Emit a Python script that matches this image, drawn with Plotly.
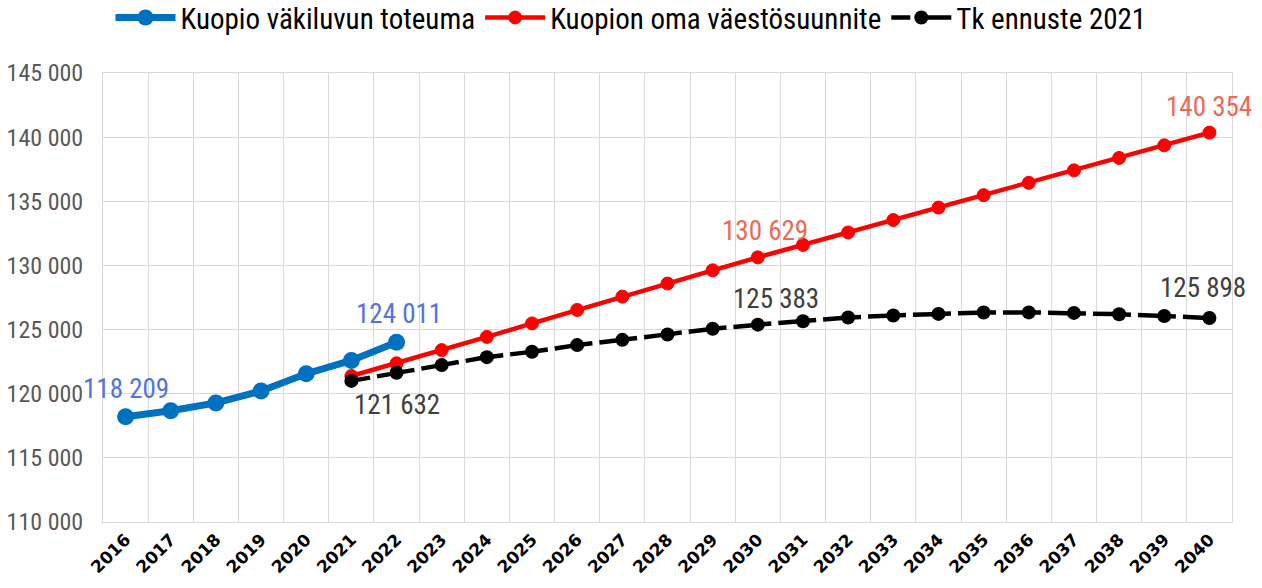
import plotly.graph_objects as go

years = [str(y) for y in range(2016, 2041)]

toteuma_years = [str(y) for y in range(2016, 2023)]
toteuma = [118209, 118667, 119282, 120210, 121557, 122594, 124011]

oma_years = [str(y) for y in range(2021, 2041)]
oma = [121380, 122370, 123400, 124430, 125480, 126530, 127570, 128590, 129620,
       130629, 131600, 132570, 133540, 134510, 135480, 136440, 137410, 138380,
       139360, 140354]

tk_years = [str(y) for y in range(2021, 2041)]
tk = [121000, 121632, 122230, 122850, 123270, 123790, 124200, 124620, 125060,
      125383, 125650, 125940, 126100, 126220, 126330, 126340, 126300, 126200,
      126060, 125898]

y_ticks = [110000, 115000, 120000, 125000, 130000, 135000, 140000, 145000]

NARROW = "Roboto Condensed, Liberation Sans Narrow, sans-serif"

fig = go.Figure()
fig.add_trace(go.Scatter(
    x=toteuma_years, y=toteuma, name="Kuopio väkiluvun toteuma",
    mode="lines+markers", line=dict(color="#0070C0", width=7),
    marker=dict(size=17, color="#0070C0")))
fig.add_trace(go.Scatter(
    x=oma_years, y=oma, name="Kuopion oma väestösuunnite",
    mode="lines+markers", line=dict(color="#FF0000", width=4.5),
    marker=dict(size=13, color="#FF0000", line=dict(color="#FF0000", width=1))))
fig.add_trace(go.Scatter(
    x=tk_years, y=tk, name="Tk ennuste 2021",
    mode="lines+markers",
    line=dict(color="#000000", width=4.5, dash="19px,7px,19px,0px"),
    marker=dict(size=14, color="#000000")))

def fmt(v):
    return f"{v:,}".replace(",", " ")

labels = [
    ("2016", toteuma[0], "#5472E0", 0, 28),
    ("2022", toteuma[-1], "#5472E0", 2, 28),
    ("2030", oma[oma_years.index("2030")], "#EB6A55", 7, 26),
    ("2040", oma[-1], "#EB6A55", 0, 26),
    ("2030", tk[tk_years.index("2030")], "#404040", 18, 26),
    ("2040", tk[-1], "#404040", -6, 30),
    ("2022", tk[tk_years.index("2022")], "#404040", 0, -32),
]
for x, v, c, xs, ys in labels:
    fig.add_annotation(x=years.index(x), y=v, xref="x", yref="y",
                       text=fmt(v), showarrow=False,
                       xshift=xs, yshift=ys,
                       font=dict(family=NARROW, size=27, color=c))

fig.update_layout(
    width=1262, height=588,
    margin=dict(l=103, r=30, t=73, b=66),
    paper_bgcolor="white", plot_bgcolor="white",
    separators=", ",
    showlegend=True,
    legend=dict(orientation="h", x=0.5, xanchor="center", xref="container",
                y=0.97, yanchor="middle", yref="container",
                font=dict(family=NARROW, size=29, color="#000000"),
                itemwidth=60, tracegroupgap=0),
    xaxis=dict(type="category", categoryorder="array", categoryarray=years,
               range=[-0.5, 24.5], tickson="boundaries", ticks="",
               showgrid=True, gridcolor="#D9D9D9", gridwidth=1,
               showline=True, linecolor="#D9D9D9", mirror=True,
               tickangle=-45, automargin=False,
               tickfont=dict(family="DejaVu Sans", size=17, color="#000000", weight="bold")),
    yaxis=dict(range=[110000, 145000], tickvals=y_ticks, tickformat=",d",
               showgrid=True, gridcolor="#D9D9D9", gridwidth=1,
               showline=True, linecolor="#D9D9D9", mirror=True,
               zeroline=False, ticks="", ticklabelstandoff=14, automargin=False,
               tickfont=dict(family=NARROW, size=24, color="#595959")),
)

fig.write_html("out.html", config={"displayModeBar": False},
               post_script="document.body.style.margin='0';document.body.style.overflow='hidden';")
